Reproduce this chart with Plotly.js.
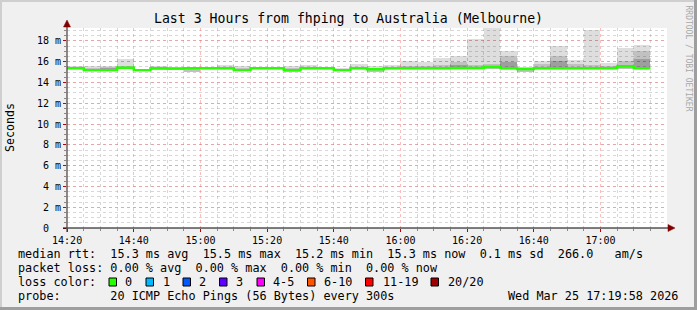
<!DOCTYPE html>
<html>
<head>
<meta charset="utf-8">
<script src="https://cdn.plot.ly/plotly-3.0.1.min.js"></script>
<style>
html,body{margin:0;padding:0;background:#f0f0f0;}
#chart{width:697px;height:310px;}
</style>
</head>
<body>
<div id="chart"></div>
<script>
// ---- data (5-minute steps, bar start times) ----
const times = ['2026-03-25 14:20','2026-03-25 14:25','2026-03-25 14:30','2026-03-25 14:35','2026-03-25 14:40',
  '2026-03-25 14:45','2026-03-25 14:50','2026-03-25 14:55','2026-03-25 15:00','2026-03-25 15:05',
  '2026-03-25 15:10','2026-03-25 15:15','2026-03-25 15:20','2026-03-25 15:25','2026-03-25 15:30',
  '2026-03-25 15:35','2026-03-25 15:40','2026-03-25 15:45','2026-03-25 15:50','2026-03-25 15:55',
  '2026-03-25 16:00','2026-03-25 16:05','2026-03-25 16:10','2026-03-25 16:15','2026-03-25 16:20',
  '2026-03-25 16:25','2026-03-25 16:30','2026-03-25 16:35','2026-03-25 16:40','2026-03-25 16:45',
  '2026-03-25 16:50','2026-03-25 16:55','2026-03-25 17:00','2026-03-25 17:05','2026-03-25 17:10'];
const endTime = '2026-03-25 17:15';
// median rtt (ms)
const medianRtt = [15.37,15.20,15.20,15.42,15.20,15.37,15.35,15.37,15.37,15.37,
  15.20,15.37,15.37,15.20,15.37,15.37,15.20,15.37,15.28,15.37,
  15.37,15.37,15.37,15.40,15.40,15.50,15.37,15.30,15.37,15.37,
  15.37,15.37,15.37,15.55,15.37];
// smoke: min / max of the pings (ms)
const smokeMin = [15.30,15.15,15.15,15.35,15.15,15.20,15.20,15.00,15.30,15.30,
  15.15,15.30,15.30,15.05,15.30,15.30,15.15,15.30,15.05,15.30,
  15.30,15.30,15.30,15.30,15.30,15.35,15.30,15.05,15.30,15.30,
  15.30,15.30,15.30,15.30,15.30];
const smokeMax = [15.55,15.60,15.55,16.27,15.35,15.55,15.50,15.45,15.45,15.70,
  15.55,15.45,15.45,15.55,15.70,15.50,15.40,15.78,15.55,15.70,
  16.10,15.95,16.40,16.60,18.15,19.35,17.05,15.50,16.10,17.50,
  16.17,19.05,15.85,17.32,17.60];
// denser part of the smoke (upper edge, ms)
const smokeMid = [15.45,15.40,15.45,15.55,15.30,15.45,15.40,15.40,15.40,15.50,
  15.40,15.40,15.40,15.40,15.50,15.42,15.30,15.50,15.40,15.50,
  15.60,15.60,15.70,16.00,15.70,15.75,16.55,15.40,15.75,16.55,
  15.75,15.70,15.60,16.10,17.00];
const smokeCore = [15.40,15.30,15.40,15.45,15.25,15.25,15.25,15.35,15.35,15.42,
  15.30,15.38,15.38,15.30,15.42,15.38,15.25,15.42,15.32,15.42,
  15.50,15.45,15.50,15.70,15.50,15.60,16.00,15.35,15.50,16.05,
  15.50,15.50,15.45,15.70,16.30];
const yTickVals = [0,2,4,6,8,10,12,14,16,18];
const yTickText = ['0\u00a0\u00a0','2 m','4 m','6 m','8 m','10 m','12 m','14 m','16 m','18 m'];
const lossLabels = ['0','1','2','3','4-5','6-10','11-19','20/20'];
const lossColors = ['#26ff00','#00b8ff','#0059ff','#5e00ff','#ff00ff','#ff5500','#ff0000','#a10000'];

// ---- geometry helpers (pixel -> paper) ----
const L = 67, R = 667, T = 28, B = 228;
const px = x => (x - L) / (R - L);
const py = y => (B - y) / (B - T);
const nb = s => s.replace(/ /g, '\u00a0');
const MONO = 'DejaVu Sans Mono';

function band(lo, hi, color) {
  return {
    type: 'bar', x: times, base: lo, y: hi.map((v, i) => Math.max(v - lo[i], 0)),
    width: 300000, offset: 0, marker: {color: color, line: {width: 0}},
    hoverinfo: 'skip'
  };
}
const coreLo = medianRtt.map((v, i) => Math.min(v, smokeCore[i]) - 0.05);

const traces = [
  band(smokeMin, smokeMax, 'rgba(0,0,0,0.13)'),
  band(smokeMin, smokeMid, 'rgba(0,0,0,0.13)'),
  band(coreLo, smokeCore, 'rgba(0,0,0,0.18)'),
  {
    type: 'scatter', mode: 'lines', x: times.concat([endTime]), y: medianRtt.concat([medianRtt[medianRtt.length - 1]]),
    line: {shape: 'hv', color: '#26ff00', width: 2.4}, hoverinfo: 'skip'
  }
];

const shapes = [
  // borders
  {type:'rect', xref:'paper', yref:'paper', x0:px(0), x1:px(697), y0:py(0), y1:py(2), fillcolor:'#cfcfcf', line:{width:0}, layer:'below'},
  {type:'rect', xref:'paper', yref:'paper', x0:px(0), x1:px(2), y0:py(0), y1:py(310), fillcolor:'#cfcfcf', line:{width:0}, layer:'below'},
  {type:'rect', xref:'paper', yref:'paper', x0:px(0), x1:px(697), y0:py(307), y1:py(310), fillcolor:'#9e9e9e', line:{width:0}, layer:'below'},
  {type:'rect', xref:'paper', yref:'paper', x0:px(694), x1:px(697), y0:py(0), y1:py(310), fillcolor:'#9e9e9e', line:{width:0}, layer:'below'},
  // axes
  {type:'line', xref:'paper', yref:'paper', x0:px(63), x1:px(669), y0:py(228), y1:py(228), line:{color:'#000', width:1.2}, layer:'above'},
  {type:'line', xref:'paper', yref:'paper', x0:px(67), x1:px(67), y0:py(232), y1:py(24), line:{color:'#4a3a3a', width:1.2}, layer:'above'},
  {type:'path', xref:'paper', yref:'paper', path:`M ${px(668)} ${py(224.5)} L ${px(675)} ${py(228)} L ${px(668)} ${py(231.5)} Z`, fillcolor:'#800000', line:{color:'#800000', width:0.5}, layer:'above'},
  {type:'path', xref:'paper', yref:'paper', path:`M ${px(63.5)} ${py(27)} L ${px(67)} ${py(20)} L ${px(70.5)} ${py(27)} Z`, fillcolor:'#800000', line:{color:'#800000', width:0.5}, layer:'above'}
];

const annotations = [];
function txt(x, y, s, opts) {
  annotations.push(Object.assign({
    xref:'paper', yref:'paper', x:px(x), y:py(y), text:nb(s), showarrow:false,
    xanchor:'left', yanchor:'middle', font:{family:MONO, size:11.8, color:'#000'}
  }, opts || {}));
}
txt(16, 254, 'median rtt:  15.3 ms avg  15.5 ms max  15.2 ms min  15.3 ms now  0.1 ms sd  266.0   am/s');
txt(16, 268, 'packet loss: 0.00 % avg  0.00 % max  0.00 % min  0.00 % now');
txt(16, 282, 'loss color:');
txt(16, 296, 'probe:       20 ICMP Echo Pings (56 Bytes) every 300s');
txt(680, 296, 'Wed Mar 25 17:19:58 2026', {xanchor:'right'});
// loss colour swatches
const swX = [109,146,183,219.5,257,307.5,365.5,431];
const lbX = [123.3,160.7,197.3,234.3,270.7,321.7,380.7,445.7];
lossLabels.forEach((lab, i) => {
  shapes.push({type:'rect', xref:'paper', yref:'paper', x0:px(swX[i]), x1:px(swX[i] + 7.5), y0:py(278), y1:py(286),
    fillcolor:lossColors[i], line:{color:'#000', width:1}});
  txt(lbX[i], 282, lab);
});
// y title and watermark
txt(10, 128, 'Seconds', {xanchor:'center', textangle:-90, font:{family:MONO, size:11.6, color:'#000'}});
txt(688, 58.5, 'RRDTOOL / TOBI OETIKER', {xanchor:'center', textangle:90, font:{family:MONO, size:8, color:'#a8a8a8'}});

const layout = {
  width: 697, height: 310,
  margin: {l: L, r: 697 - R, t: T, b: 310 - B, pad: 0},
  paper_bgcolor: '#f0f0f0', plot_bgcolor: '#ffffff',
  showlegend: false, barmode: 'overlay', bargap: 0,
  title: {text: 'Last 3 Hours from fhping to Australia (Melbourne)', x: 0.5, xref: 'container', xanchor: 'center',
    y: 1 - 18 / 310, yref: 'container', yanchor: 'middle', font: {family: MONO, size: 13.2, color: '#000'}},
  xaxis: {
    type: 'date', range: ['2026-03-25 14:19:58', '2026-03-25 17:19:58'],
    tick0: '2026-03-25 14:20', dtick: 1200000, tickformat: '%H:%M',
    ticks: 'outside', ticklen: 3, tickcolor: '#c00000', tickwidth: 1,
    tickfont: {family: MONO, size: 10, color: '#000'},
    showgrid: true, gridcolor: 'rgba(245,110,110,0.45)', griddash: 'dot', gridwidth: 1,
    minor: {dtick: 300000, tick0: '2026-03-25 14:20', showgrid: true, gridcolor: 'rgba(150,150,150,0.38)', griddash: 'dot', gridwidth: 1, ticks: 'outside', ticklen: 2, tickcolor: '#888'},
    showline: false, zeroline: false, fixedrange: true
  },
  yaxis: {
    range: [0, 19.25], tickvals: yTickVals, ticktext: yTickText,
    ticks: 'outside', ticklen: 3, tickcolor: '#c00000', tickwidth: 1,
    tickfont: {family: MONO, size: 10, color: '#000'},
    showgrid: true, gridcolor: 'rgba(245,110,110,0.45)', griddash: 'dot', gridwidth: 1,
    minor: {dtick: 0.5, tick0: 0, showgrid: true, gridcolor: 'rgba(150,150,150,0.38)', griddash: 'dot', gridwidth: 1, ticks: 'outside', ticklen: 2, tickcolor: '#888'},
    showline: false, zeroline: false, fixedrange: true
  },
  shapes: shapes, annotations: annotations
};

Plotly.newPlot('chart', traces, layout, {displayModeBar: false, staticPlot: true});
</script>
</body>
</html>
